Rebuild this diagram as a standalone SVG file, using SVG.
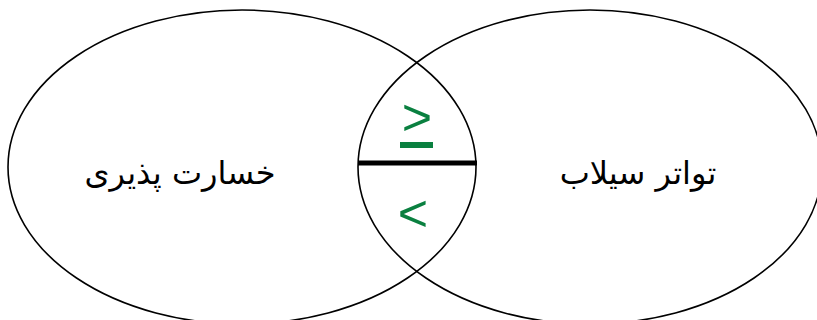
<svg xmlns="http://www.w3.org/2000/svg" width="817" height="320" viewBox="0 0 817 320">
<style>
.ring{fill:none;stroke:#000;stroke-width:1.6}
.lbl{font-family:"DejaVu Sans","Noto Sans",sans-serif;font-size:32px;fill:#000;text-anchor:middle}
.sym{font-family:"Liberation Sans",Arial,sans-serif;font-size:52px;fill:#0a8040;text-anchor:middle}
</style>
<rect width="817" height="320" fill="#fff"/>
<g id="node-vulnerability">
<ellipse class="ring" cx="242" cy="167" rx="234" ry="157"/>
<text class="lbl" x="180" y="184" direction="rtl">خسارت پذیری</text>
</g>
<g id="node-flood-frequency">
<ellipse class="ring" cx="590" cy="167" rx="232" ry="157"/>
<text class="lbl" x="638" y="184" direction="rtl">تواتر سیلاب</text>
</g>
<g id="connectors">
<line x1="358" y1="163" x2="477" y2="163" stroke="#000" stroke-width="5"/>
</g>
<g id="node-symbols">
<text class="sym" x="417" y="135">&gt;</text>
<rect x="400" y="142" width="33" height="6" fill="#0a8040"/>
<text class="sym" x="413" y="231">&lt;</text>
</g>
</svg>
